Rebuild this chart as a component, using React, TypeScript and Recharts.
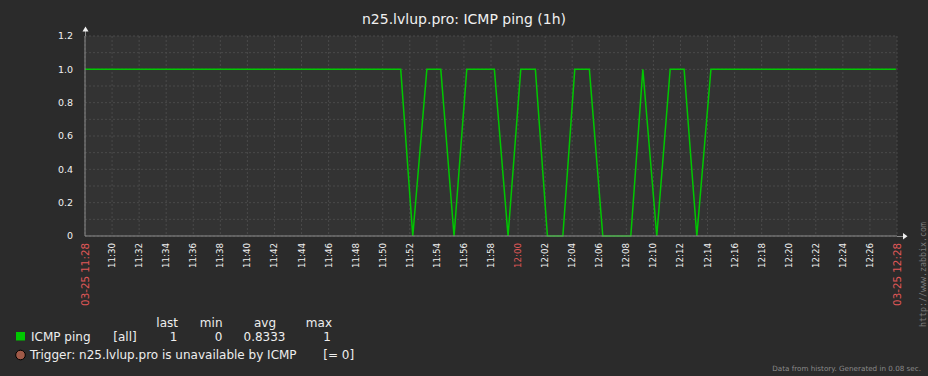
import { LineChart, Line, XAxis, YAxis, CartesianGrid } from "recharts";

// minutes since 11:28 where the ping value changes
const pingTimes = [0, 23.33, 24.22, 25.26, 26.29, 27.27, 28.21, 30.25, 31.26, 32.2, 33.28, 34.17, 35.31, 36.19, 37.27, 38.26, 40.33, 41.22, 42.25, 43.24, 44.27, 45.21, 46.25, 59.92];
const pingValues = [1, 1, 0, 1, 1, 0, 1, 1, 0, 1, 1, 0, 0, 1, 1, 0, 0, 1, 0, 1, 1, 0, 1, 1];

const xTicks = [0, 2, 4, 6, 8, 10, 12, 14, 16, 18, 20, 22, 24, 26, 28, 30, 32, 34, 36, 38, 40, 42, 44, 46, 48, 50, 52, 54, 56, 58, 60];
const xTickLabels = [
  "03-25 11:28", "11:30", "11:32", "11:34", "11:36", "11:38", "11:40", "11:42", "11:44", "11:46", "11:48",
  "11:50", "11:52", "11:54", "11:56", "11:58", "12:00", "12:02", "12:04", "12:06", "12:08", "12:10",
  "12:12", "12:14", "12:16", "12:18", "12:20", "12:22", "12:24", "12:26", "03-25 12:28",
];
const xTickHighlight = [0, 32, 60];

const yTicks = [0, 0.1, 0.2, 0.3, 0.4, 0.5, 0.6, 0.7, 0.8, 0.9, 1.0, 1.1, 1.2];
const yTickLabels = ["0", "", "0.2", "", "0.4", "", "0.6", "", "0.8", "", "1.0", "", "1.2"];

const legendHeaders = ["last", "min", "avg", "max"];
const legendValues = ["1", "0", "0.8333", "1"];

const FONT = "DejaVu Sans";
const RED = "#e05858";

const data = pingTimes.map((t, i) => ({ t, v: pingValues[i] }));

function XTick(props: any) {
  const { x, y, payload } = props;
  const i = xTicks.indexOf(payload.value);
  const label = xTickLabels[i];
  const hot = xTickHighlight.includes(payload.value);
  const big = label.length > 5;
  return (
    <text
      x={x}
      y={y}
      transform={`rotate(-90, ${x}, ${y})`}
      textAnchor="end"
      dominantBaseline="central"
      fontFamily={FONT}
      fontSize={big ? 10.3 : 8.7}
      fill={hot ? RED : "#f0f0f0"}
    >
      {label}
    </text>
  );
}

export default function App() {
  return (
    <div style={{ position: "absolute", left: 0, top: 0, width: 928, height: 376, background: "#2b2b2b" }}>
      <LineChart width={928} height={376} data={data} margin={{ top: 36, right: 31, left: 40, bottom: 0 }}>
        <CartesianGrid fill="#333333" stroke="#4a4a4a" strokeDasharray="2 2" />
        <XAxis
          dataKey="t"
          type="number"
          domain={[0, 60]}
          ticks={xTicks}
          interval={0}
          height={140}
          tickSize={0}
          tickMargin={7}
          tickLine={false}
          axisLine={{ stroke: "#8c8c8c" }}
          tick={<XTick />}
        />
        <YAxis
          type="number"
          domain={[0, 1.2]}
          ticks={yTicks}
          interval={0}
          width={45}
          tickSize={6}
          tickMargin={6}
          tickLine={false}
          axisLine={{ stroke: "#8c8c8c" }}
          tickFormatter={(v: number, i: number) => yTickLabels[i]}
          tick={{ fontFamily: FONT, fontSize: 9.5, fill: "#f0f0f0" }}
        />
        <Line type="linear" dataKey="v" stroke="#00c800" strokeWidth={1.5} dot={false} isAnimationActive={false} />
      </LineChart>
      <svg width={928} height={376} style={{ position: "absolute", left: 0, top: 0, pointerEvents: "none" }}>
        <text x={464} y={24} textAnchor="middle" fontFamily={FONT} fontSize={14} fill="#f0f0f0">
          n25.lvlup.pro: ICMP ping (1h)
        </text>
        <line x1={85.5} y1={36} x2={85.5} y2={31} stroke="#8c8c8c" />
        <line x1={897} y1={236.5} x2={903} y2={236.5} stroke="#8c8c8c" />
        <polygon points="82.5,31.5 88.5,31.5 85.5,26.5" fill="#f0f0f0" />
        <polygon points="903,233 903,239.5 907.5,236.3" fill="#f0f0f0" />
        <g fontFamily={FONT} fontSize={12} fill="#eeeeee">
          {legendHeaders.map((h, i) => (
            <text key={h} x={[178, 222.5, 276, 332][i]} y={326.5} textAnchor="end">{h}</text>
          ))}
          <rect x={16} y={332} width={9} height={8.5} fill="#00c800" />
          <text x={31} y={340.7}>ICMP ping</text>
          <text x={113.3} y={340.7}>[all]</text>
          {legendValues.map((v, i) => (
            <text key={i} x={[177.5, 222.5, 285.5, 331][i]} y={340.7} textAnchor="end">{v}</text>
          ))}
          <circle cx={20.5} cy={355} r={4.8} fill="#a05a48" stroke="#000" strokeWidth={1} />
          <text x={30} y={359.3}>Trigger: n25.lvlup.pro is unavailable by ICMP</text>
          <text x={323.3} y={359.3}>[= 0]</text>
        </g>
        <text x={921} y={370.7} textAnchor="end" fontFamily={FONT} fontSize={7.2} fill="#8a8a8a">
          Data from history. Generated in 0.08 sec.
        </text>
        <text
          x={922.5}
          y={327}
          transform="rotate(-90, 922.5, 327)"
          dominantBaseline="central"
          fontFamily="DejaVu Sans Mono"
          fontSize={8.3}
          fill="#7a7a7a"
        >
          http://www.zabbix.com
        </text>
      </svg>
    </div>
  );
}
